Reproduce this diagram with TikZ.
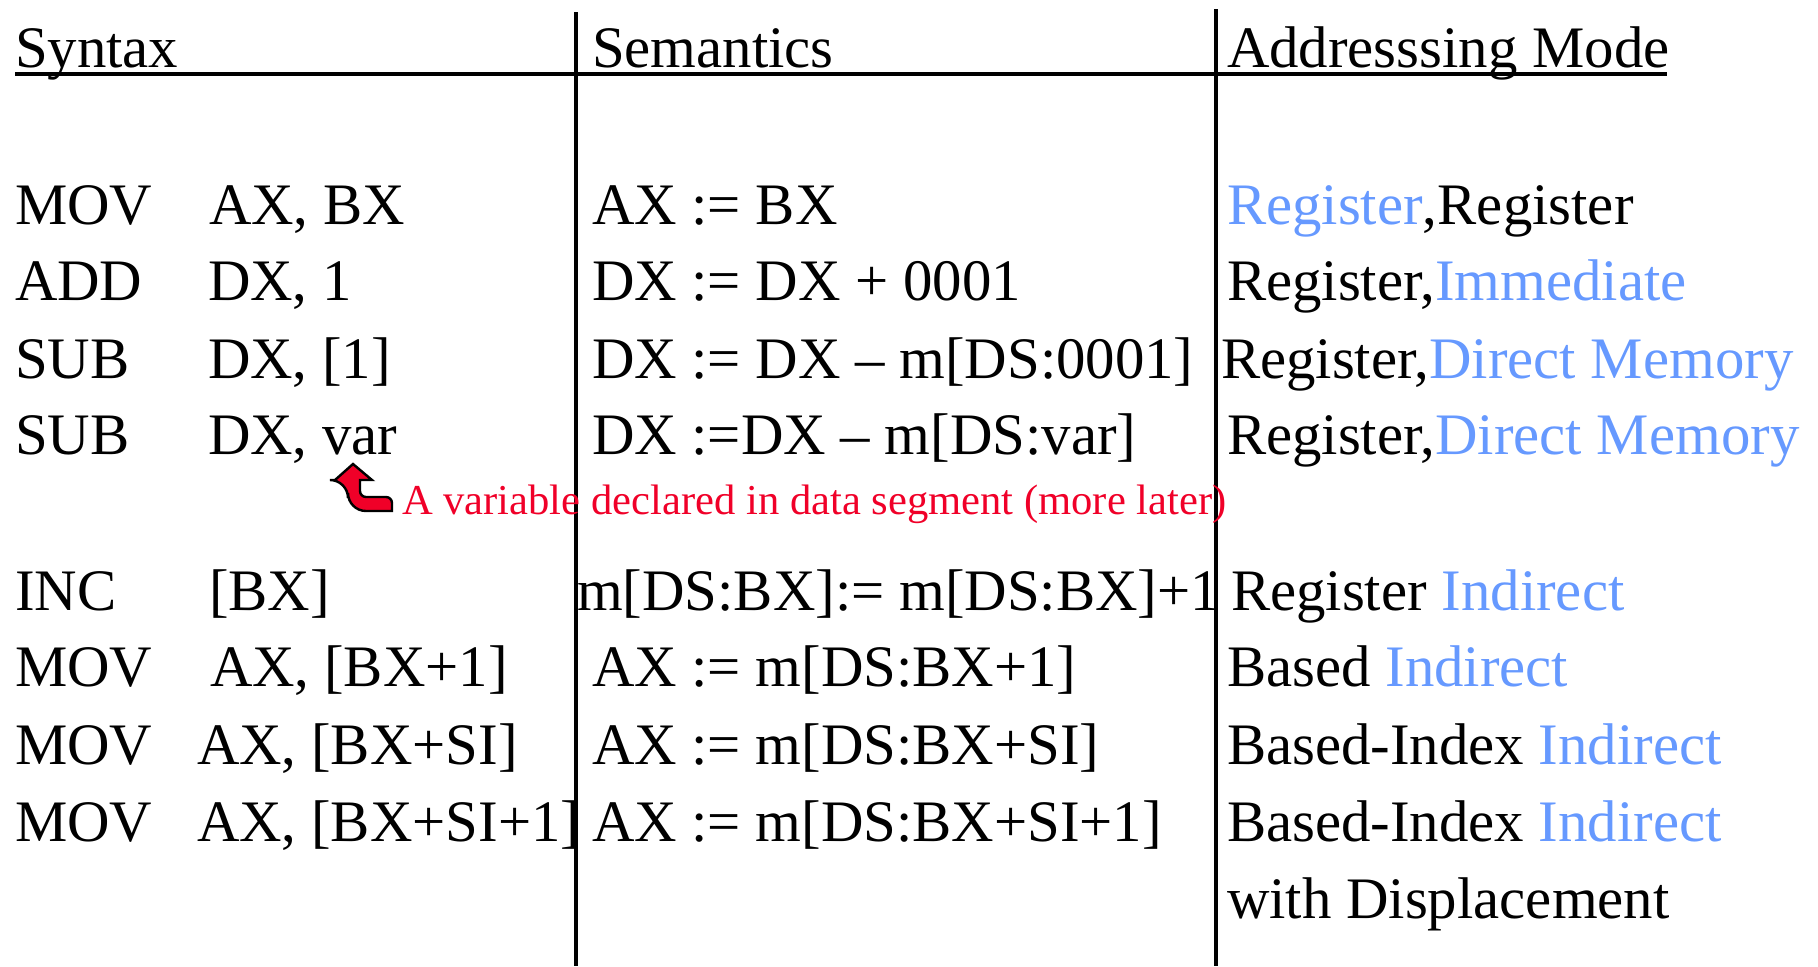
\documentclass[tikz,border=0pt]{standalone}
\usepackage{fontspec}
\setmainfont{Liberation Serif}
\definecolor{modeblue}{RGB}{102,153,255}
\definecolor{notered}{RGB}{240,0,40}
\newcommand{\bigsz}{\fontsize{14.7pt}{17.5pt}\selectfont}
\newcommand{\smallsz}{\fontsize{10.65pt}{12.5pt}\selectfont}
\begin{document}
\begin{tikzpicture}[x=0.25pt,y=-0.25pt,
  txt/.style={anchor=base west, inner sep=0pt, outer sep=0pt, font=\bigsz},
  note/.style={anchor=base west, inner sep=0pt, outer sep=0pt, font=\smallsz, text=notered},
  rule/.style={line width=0.8pt, black},
  bl/.style={text=modeblue}]
\useasboundingbox (0,0) rectangle (1818,966);
% rules
\draw[rule] (15,74) -- (1667,74);
\draw[rule] (576,12) -- (576,966);
\draw[rule] (1216,9) -- (1216,966);
% headers
\node[txt] (h1) at (15,67) {Syntax};
\node[txt] (h2) at (592,67) {Semantics};
\node[txt] (h3) at (1227,67) {Addresssing Mode};
% row 1
\node[txt] (s1) at (15,224) {MOV};
\node[txt] (o1) at (209,224) {AX, BX};
\node[txt] (m1) at (592,224) {AX := BX};
\node[txt] (a1) at (1227,224) {\textcolor{modeblue}{Register},Register};
% row 2
\node[txt] (s2) at (15,300) {ADD};
\node[txt] (o2) at (208,300) {DX, 1};
\node[txt] (m2) at (592,300) {DX := DX + 0001};
\node[txt] (a2) at (1227,300) {Register,\textcolor{modeblue}{Immediate}};
% row 3
\node[txt] (s3) at (15,378) {SUB};
\node[txt] (o3) at (208,378) {DX, [1]};
\node[txt] (m3) at (592,378) {DX := DX – m[DS:0001]};
\node[txt] (a3) at (1221,378) {Register,\textcolor{modeblue}{Direct Memory}};
% row 4
\node[txt] (s4) at (15,454) {SUB};
\node[txt] (o4) at (208,454) {DX, var};
\node[txt] (m4) at (592,454) {DX :=DX – m[DS:var]};
\node[txt] (a4) at (1227,454) {Register,\textcolor{modeblue}{Direct Memory}};
% note
\filldraw[fill=notered, draw=black, line width=0.6pt]
  (353,464) -- (372,480) -- (360,480)
  {[rounded corners=1.5pt] -- (360,497) -- (392,497)}
  -- (392,511)
  {[rounded corners=4.5pt] -- (348,511) -- (348,480)}
  -- (335,480) -- cycle;
\node[note] (n1) at (402,514) {A variable declared in data segment (more later)};
% row 5
\node[txt] (s5) at (15,610) {INC};
\node[txt] (o5) at (209,610) {[BX]};
\node[txt] (m5) at (577,610) {m[DS:BX]:= m[DS:BX]+1};
\node[txt] (a5) at (1231,610) {Register \textcolor{modeblue}{Indirect}};
% row 6
\node[txt] (s6) at (15,686) {MOV};
\node[txt] (o6) at (210,686) {AX, [BX+1]};
\node[txt] (m6) at (592,686) {AX := m[DS:BX+1]};
\node[txt] (a6) at (1227,686) {Based \textcolor{modeblue}{Indirect}};
% row 7
\node[txt] (s7) at (15,764) {MOV};
\node[txt] (o7) at (197,764) {AX, [BX+SI]};
\node[txt] (m7) at (592,764) {AX := m[DS:BX+SI]};
\node[txt] (a7) at (1227,764) {Based-Index \textcolor{modeblue}{Indirect}};
% row 8
\node[txt] (s8) at (15,841) {MOV};
\node[txt] (o8) at (197,841) {AX, [BX+SI+1]};
\node[txt] (m8) at (592,841) {AX := m[DS:BX+SI+1]};
\node[txt] (a8) at (1227,841) {Based-Index \textcolor{modeblue}{Indirect}};
\node[txt] (a9) at (1227,918) {with Displacement};
\end{tikzpicture}
\end{document}
